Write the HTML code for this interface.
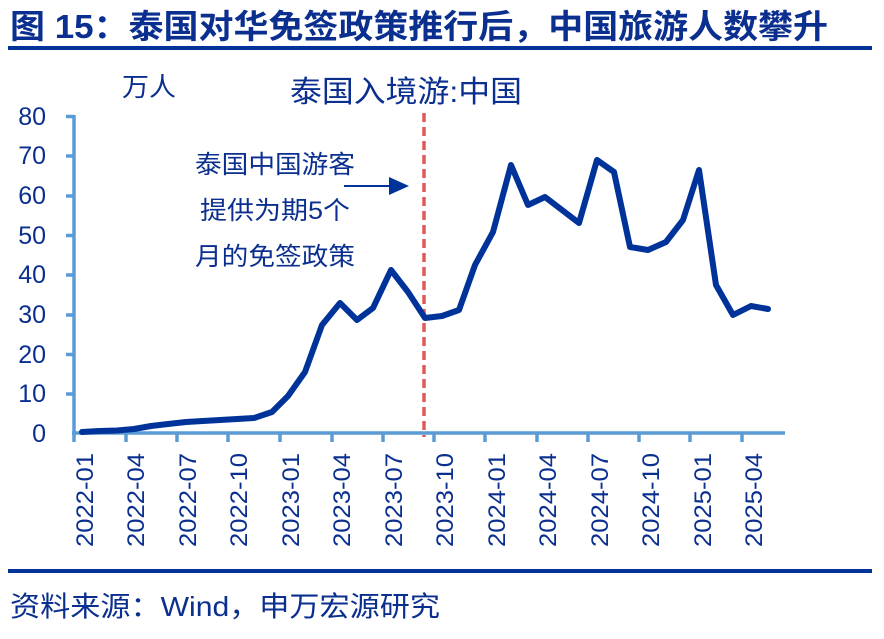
<!DOCTYPE html>
<html><head><meta charset="utf-8"><style>
body{margin:0;background:#fff;width:884px;height:634px;overflow:hidden}
svg text{font-family:"Liberation Sans","Noto Sans CJK SC",sans-serif;fill:#0a2f8f}
</style></head><body>
<svg width="884" height="634" viewBox="0 0 884 634">
<text x="10" y="38" font-size="33" font-weight="bold" textLength="818" lengthAdjust="spacingAndGlyphs">图 15：泰国对华免签政策推行后，中国旅游人数攀升</text>
<rect x="8" y="46" width="864" height="4" fill="#003399"/>
<text x="122" y="96" font-size="26" textLength="54" lengthAdjust="spacingAndGlyphs">万人</text>
<text x="290" y="102" font-size="30" textLength="232" lengthAdjust="spacingAndGlyphs">泰国入境游:中国</text>
<g font-size="25" text-anchor="end">
<text x="46" y="442">0</text><text x="46" y="402">10</text><text x="46" y="363">20</text><text x="46" y="323">30</text><text x="46" y="283">40</text><text x="46" y="244">50</text><text x="46" y="204">60</text><text x="46" y="164">70</text><text x="46" y="125">80</text>
</g>
<g stroke="#5b9bd5" stroke-width="3.5" fill="none">
<line x1="74" y1="115" x2="74" y2="435"/>
<line x1="72" y1="433" x2="785" y2="433"/>
<path d="M66 116.5H74M66 156H74M66 196H74M66 235.5H74M66 275H74M66 315H74M66 354.5H74M66 394H74"/>
<path d="M74 433v9M126 433v9M177 433v9M228 433v9M280 433v9M332 433v9M383 433v9M434 433v9M485 433v9M537 433v9M588 433v9M639 433v9M690 433v9M742 433v9"/>
</g>
<line x1="424" y1="113" x2="424" y2="437" stroke="#e05a5a" stroke-width="3.5" stroke-dasharray="9,5"/>
<polyline fill="none" stroke="#003399" stroke-width="6" stroke-linejoin="round" stroke-linecap="round" points="82,432 99,431 117,430.5 134,429 151,426 168,424 186,422 203,421 220,420 237,419 254,418 272,412 288,396 305,372 322,325 340,303 357,320 373,308 391,270 408,292 425,318 442,316 459,310 475,265 493,232 511,165 528,205 545,197 562,210 579,223 597,160 614,172 630,247 648,250 666,242 683,220 699,170 716,285 733,315 751,306 768,309"/>
<text x="195" y="173" font-size="25" textLength="160" lengthAdjust="spacingAndGlyphs">泰国中国游客</text>
<text x="200" y="219" font-size="25" textLength="150" lengthAdjust="spacingAndGlyphs">提供为期5个</text>
<text x="195" y="265" font-size="25" textLength="160" lengthAdjust="spacingAndGlyphs">月的免签政策</text>
<line x1="344" y1="186" x2="392" y2="186" stroke="#003399" stroke-width="2"/>
<polygon points="389,177 409,186 389,195" fill="#003399"/>
<g font-size="24">
<text transform="translate(93,547) rotate(-90)" textLength="94" lengthAdjust="spacingAndGlyphs">2022-01</text>
<text transform="translate(144,547) rotate(-90)" textLength="94" lengthAdjust="spacingAndGlyphs">2022-04</text>
<text transform="translate(196,547) rotate(-90)" textLength="94" lengthAdjust="spacingAndGlyphs">2022-07</text>
<text transform="translate(247,547) rotate(-90)" textLength="94" lengthAdjust="spacingAndGlyphs">2022-10</text>
<text transform="translate(299,547) rotate(-90)" textLength="94" lengthAdjust="spacingAndGlyphs">2023-01</text>
<text transform="translate(350,547) rotate(-90)" textLength="94" lengthAdjust="spacingAndGlyphs">2023-04</text>
<text transform="translate(402,547) rotate(-90)" textLength="94" lengthAdjust="spacingAndGlyphs">2023-07</text>
<text transform="translate(453,547) rotate(-90)" textLength="94" lengthAdjust="spacingAndGlyphs">2023-10</text>
<text transform="translate(505,547) rotate(-90)" textLength="94" lengthAdjust="spacingAndGlyphs">2024-01</text>
<text transform="translate(556,547) rotate(-90)" textLength="94" lengthAdjust="spacingAndGlyphs">2024-04</text>
<text transform="translate(608,547) rotate(-90)" textLength="94" lengthAdjust="spacingAndGlyphs">2024-07</text>
<text transform="translate(659,547) rotate(-90)" textLength="94" lengthAdjust="spacingAndGlyphs">2024-10</text>
<text transform="translate(711,547) rotate(-90)" textLength="94" lengthAdjust="spacingAndGlyphs">2025-01</text>
<text transform="translate(762,547) rotate(-90)" textLength="94" lengthAdjust="spacingAndGlyphs">2025-04</text>
</g>
<rect x="8" y="569" width="864" height="4" fill="#003399"/>
<text x="10" y="616" font-size="28" textLength="430" lengthAdjust="spacingAndGlyphs">资料来源：Wind，申万宏源研究</text>
</svg>
</body></html>
